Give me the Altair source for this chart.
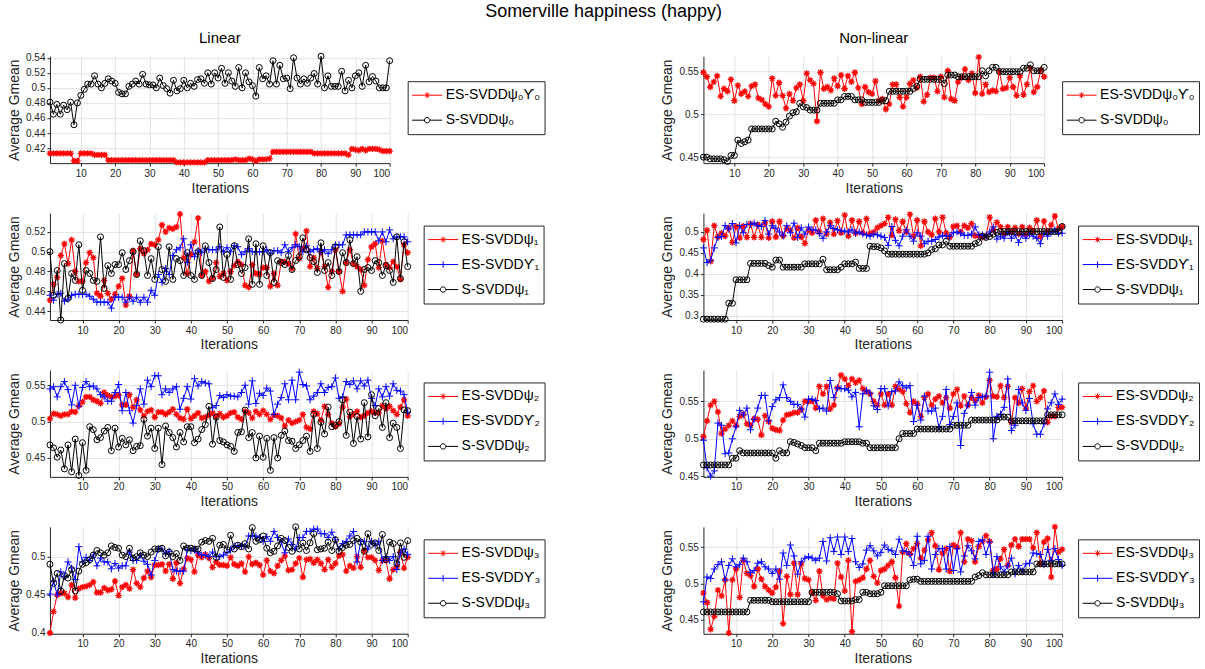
import altair as alt
import pandas as pd

iterations = list(range(1, 101))
x_ticks = [10, 20, 30, 40, 50, 60, 70, 80, 90, 100]

# ---------------- Row 1 ----------------
lin0_es = [0.413, 0.413, 0.413, 0.413, 0.413, 0.413, 0.413, 0.403, 0.403, 0.413,
           0.413, 0.413, 0.413, 0.411, 0.411, 0.411, 0.411, 0.404, 0.404, 0.404,
           0.404, 0.404, 0.404, 0.404, 0.404, 0.404, 0.404, 0.404, 0.404, 0.404,
           0.404, 0.404, 0.404, 0.404, 0.404, 0.404, 0.404, 0.401, 0.401, 0.401,
           0.401, 0.401, 0.401, 0.401, 0.401, 0.401, 0.404, 0.404, 0.404, 0.404,
           0.404, 0.404, 0.404, 0.404, 0.405, 0.404, 0.404, 0.404, 0.406, 0.405,
           0.403, 0.405, 0.405, 0.405, 0.406, 0.415, 0.415, 0.415, 0.415, 0.415,
           0.415, 0.415, 0.415, 0.415, 0.415, 0.415, 0.415, 0.413, 0.413, 0.413,
           0.413, 0.413, 0.413, 0.413, 0.413, 0.413, 0.413, 0.411, 0.419, 0.418,
           0.417, 0.419, 0.417, 0.419, 0.419, 0.419, 0.418, 0.416, 0.416, 0.416]
lin0_s = [0.481, 0.465, 0.478, 0.465, 0.477, 0.471, 0.481, 0.451, 0.480, 0.490,
          0.498, 0.505, 0.505, 0.516, 0.505, 0.500, 0.506, 0.512, 0.509, 0.506,
          0.494, 0.492, 0.492, 0.502, 0.505, 0.509, 0.505, 0.518, 0.505, 0.504,
          0.504, 0.500, 0.513, 0.503, 0.499, 0.493, 0.510, 0.496, 0.499, 0.510,
          0.500, 0.506, 0.502, 0.511, 0.512, 0.506, 0.520, 0.505, 0.520, 0.513,
          0.526, 0.506, 0.520, 0.509, 0.502, 0.527, 0.500, 0.520, 0.508, 0.503,
          0.489, 0.527, 0.512, 0.516, 0.505, 0.536, 0.505, 0.530, 0.512, 0.513,
          0.499, 0.540, 0.513, 0.505, 0.512, 0.506, 0.513, 0.519, 0.505, 0.542,
          0.500, 0.516, 0.502, 0.502, 0.502, 0.522, 0.496, 0.510, 0.500, 0.516,
          0.520, 0.502, 0.530, 0.508, 0.515, 0.509, 0.500, 0.500, 0.500, 0.536]
nl0_es = [0.549, 0.544, 0.532, 0.538, 0.545, 0.521, 0.530, 0.527, 0.541, 0.516,
          0.534, 0.524, 0.527, 0.521, 0.533, 0.535, 0.519, 0.517, 0.512, 0.509,
          0.542, 0.522, 0.537, 0.522, 0.507, 0.524, 0.516, 0.531, 0.535, 0.516,
          0.548, 0.540, 0.536, 0.492, 0.549, 0.530, 0.532, 0.528, 0.542, 0.533,
          0.546, 0.530, 0.545, 0.538, 0.549, 0.531, 0.512, 0.532, 0.526, 0.524,
          0.539, 0.516, 0.518, 0.506, 0.512, 0.535, 0.535, 0.520, 0.509, 0.520,
          0.536, 0.540, 0.531, 0.544, 0.515, 0.523, 0.543, 0.543, 0.527, 0.544,
          0.520, 0.551, 0.518, 0.516, 0.538, 0.543, 0.553, 0.540, 0.548, 0.525,
          0.567, 0.524, 0.535, 0.526, 0.528, 0.527, 0.550, 0.530, 0.531, 0.543,
          0.532, 0.522, 0.545, 0.523, 0.535, 0.554, 0.526, 0.532, 0.552, 0.544]
nl0_s = [0.450, 0.450, 0.448, 0.448, 0.448, 0.448, 0.447, 0.445, 0.452, 0.452,
         0.470, 0.466, 0.468, 0.470, 0.483, 0.483, 0.483, 0.483, 0.483, 0.483,
         0.483, 0.492, 0.489, 0.485, 0.491, 0.498, 0.502, 0.503, 0.513, 0.509,
         0.508, 0.505, 0.505, 0.505, 0.513, 0.513, 0.513, 0.513, 0.513, 0.517,
         0.517, 0.521, 0.521, 0.521, 0.517, 0.517, 0.517, 0.514, 0.514, 0.514,
         0.514, 0.514, 0.516, 0.516, 0.527, 0.527, 0.527, 0.527, 0.527, 0.527,
         0.527, 0.530, 0.533, 0.541, 0.541, 0.541, 0.541, 0.541, 0.541, 0.541,
         0.536, 0.546, 0.546, 0.546, 0.544, 0.544, 0.544, 0.544, 0.544, 0.544,
         0.544, 0.551, 0.545, 0.551, 0.555, 0.555, 0.550, 0.550, 0.550, 0.550,
         0.550, 0.550, 0.550, 0.554, 0.554, 0.558, 0.551, 0.551, 0.551, 0.555]

# ---------------- Row 2 ----------------
lin1_es = [0.451, 0.467, 0.474, 0.496, 0.508, 0.488, 0.512, 0.480, 0.470, 0.470,
           0.489, 0.499, 0.494, 0.458, 0.455, 0.471, 0.458, 0.452, 0.457, 0.465,
           0.473, 0.446, 0.455, 0.501, 0.477, 0.503, 0.498, 0.502, 0.508, 0.507,
           0.512, 0.527, 0.520, 0.524, 0.523, 0.525, 0.538, 0.494, 0.478, 0.497,
           0.510, 0.534, 0.476, 0.480, 0.470, 0.473, 0.489, 0.475, 0.478, 0.471,
           0.480, 0.486, 0.490, 0.487, 0.466, 0.464, 0.487, 0.478, 0.477, 0.484,
           0.484, 0.465, 0.478, 0.466, 0.490, 0.490, 0.488, 0.483, 0.518, 0.493,
           0.503, 0.521, 0.485, 0.494, 0.483, 0.500, 0.485, 0.464, 0.480, 0.502,
           0.480, 0.460, 0.489, 0.502, 0.488, 0.485, 0.482, 0.466, 0.492, 0.505,
           0.508, 0.484, 0.511, 0.487, 0.484, 0.490, 0.485, 0.472, 0.507, 0.499]
lin1_ups = [0.456, 0.451, 0.457, 0.458, 0.450, 0.452, 0.456, 0.457, 0.457, 0.457,
            0.457, 0.455, 0.452, 0.449, 0.449, 0.449, 0.449, 0.443, 0.454, 0.454,
            0.454, 0.449, 0.454, 0.450, 0.454, 0.449, 0.454, 0.449, 0.461, 0.456,
            0.477, 0.469, 0.483, 0.477, 0.496, 0.502, 0.504, 0.513, 0.489, 0.507,
            0.495, 0.501, 0.499, 0.503, 0.502, 0.502, 0.502, 0.505, 0.500, 0.504,
            0.500, 0.506, 0.505, 0.497, 0.500, 0.503, 0.500, 0.500, 0.500, 0.500,
            0.502, 0.498, 0.501, 0.501, 0.499, 0.507, 0.500, 0.504, 0.507, 0.505,
            0.500, 0.506, 0.500, 0.502, 0.503, 0.500, 0.502, 0.498, 0.502, 0.507,
            0.507, 0.507, 0.517, 0.517, 0.517, 0.517, 0.517, 0.520, 0.520, 0.520,
            0.520, 0.511, 0.520, 0.510, 0.522, 0.513, 0.515, 0.515, 0.515, 0.510]
lin1_s = [0.500, 0.456, 0.481, 0.431, 0.488, 0.453, 0.478, 0.471, 0.507, 0.461,
          0.481, 0.478, 0.471, 0.470, 0.515, 0.463, 0.486, 0.478, 0.487, 0.487,
          0.499, 0.482, 0.491, 0.500, 0.477, 0.511, 0.501, 0.476, 0.493, 0.472,
          0.505, 0.482, 0.470, 0.505, 0.472, 0.493, 0.491, 0.476, 0.499, 0.476,
          0.472, 0.500, 0.476, 0.506, 0.489, 0.473, 0.482, 0.525, 0.474, 0.497,
          0.472, 0.506, 0.487, 0.478, 0.484, 0.513, 0.467, 0.508, 0.467, 0.506,
          0.476, 0.499, 0.469, 0.491, 0.489, 0.487, 0.496, 0.482, 0.491, 0.495,
          0.514, 0.502, 0.494, 0.490, 0.479, 0.509, 0.481, 0.489, 0.476, 0.505,
          0.480, 0.499, 0.489, 0.512, 0.488, 0.495, 0.460, 0.482, 0.484, 0.481,
          0.491, 0.489, 0.476, 0.486, 0.481, 0.469, 0.515, 0.473, 0.510, 0.485]
nl1_es = [0.482, 0.504, 0.430, 0.515, 0.488, 0.497, 0.490, 0.510, 0.475, 0.513,
          0.486, 0.514, 0.487, 0.520, 0.487, 0.518, 0.487, 0.522, 0.486, 0.525,
          0.488, 0.525, 0.490, 0.508, 0.505, 0.486, 0.510, 0.488, 0.473, 0.505,
          0.498, 0.528, 0.500, 0.532, 0.495, 0.523, 0.495, 0.527, 0.498, 0.540,
          0.490, 0.528, 0.497, 0.525, 0.498, 0.532, 0.496, 0.500, 0.510, 0.515,
          0.520, 0.535, 0.492, 0.530, 0.503, 0.525, 0.500, 0.542, 0.490, 0.528,
          0.467, 0.525, 0.500, 0.493, 0.532, 0.500, 0.535, 0.498, 0.487, 0.513,
          0.515, 0.500, 0.515, 0.510, 0.520, 0.491, 0.490, 0.487, 0.490, 0.535,
          0.504, 0.523, 0.512, 0.495, 0.512, 0.500, 0.510, 0.495, 0.512, 0.493,
          0.510, 0.502, 0.528, 0.488, 0.526, 0.500, 0.517, 0.538, 0.507, 0.513]
nl1_ups = [0.462, 0.427, 0.433, 0.462, 0.487, 0.489, 0.515, 0.507, 0.520, 0.474,
           0.515, 0.498, 0.518, 0.518, 0.521, 0.515, 0.513, 0.527, 0.495, 0.515,
           0.509, 0.500, 0.491, 0.515, 0.498, 0.521, 0.487, 0.510, 0.495, 0.512,
           0.505, 0.505, 0.496, 0.485, 0.500, 0.515, 0.508, 0.505, 0.503, 0.502,
           0.500, 0.505, 0.497, 0.500, 0.495, 0.493, 0.490, 0.495, 0.493, 0.490,
           0.487, 0.468, 0.513, 0.480, 0.467, 0.490, 0.505, 0.490, 0.478, 0.498,
           0.490, 0.472, 0.478, 0.478, 0.482, 0.488, 0.492, 0.490, 0.490, 0.498,
           0.500, 0.497, 0.492, 0.492, 0.495, 0.512, 0.493, 0.493, 0.490, 0.500,
           0.512, 0.483, 0.490, 0.485, 0.498, 0.485, 0.493, 0.475, 0.493, 0.485,
           0.495, 0.490, 0.485, 0.472, 0.497, 0.490, 0.500, 0.505, 0.497, 0.497]
nl1_s = [0.292, 0.292, 0.292, 0.292, 0.292, 0.292, 0.292, 0.330, 0.330, 0.386,
         0.386, 0.386, 0.386, 0.425, 0.425, 0.425, 0.425, 0.425, 0.420, 0.416,
         0.433, 0.433, 0.416, 0.416, 0.416, 0.416, 0.416, 0.416, 0.424, 0.424,
         0.424, 0.424, 0.424, 0.435, 0.410, 0.410, 0.410, 0.410, 0.416, 0.424,
         0.424, 0.424, 0.428, 0.413, 0.413, 0.413, 0.466, 0.465, 0.465, 0.462,
         0.455, 0.447, 0.447, 0.447, 0.447, 0.447, 0.447, 0.447, 0.447, 0.447,
         0.447, 0.447, 0.450, 0.458, 0.460, 0.469, 0.469, 0.478, 0.466, 0.466,
         0.466, 0.466, 0.466, 0.466, 0.466, 0.472, 0.475, 0.490, 0.487, 0.489,
         0.495, 0.499, 0.501, 0.501, 0.501, 0.501, 0.501, 0.501, 0.501, 0.501,
         0.501, 0.501, 0.501, 0.501, 0.501, 0.501, 0.501, 0.501, 0.501, 0.513]

# ---------------- Row 3 ----------------
lin2_es = [0.504, 0.511, 0.510, 0.508, 0.510, 0.510, 0.514, 0.513, 0.522, 0.527,
           0.534, 0.534, 0.530, 0.528, 0.525, 0.540, 0.536, 0.534, 0.535, 0.536,
           0.523, 0.523, 0.537, 0.520, 0.530, 0.516, 0.508, 0.514, 0.516, 0.506,
           0.513, 0.513, 0.510, 0.513, 0.517, 0.510, 0.505, 0.503, 0.517, 0.504,
           0.508, 0.512, 0.505, 0.506, 0.509, 0.512, 0.507, 0.511, 0.506, 0.508,
           0.512, 0.513, 0.506, 0.503, 0.514, 0.512, 0.505, 0.514, 0.510, 0.515,
           0.510, 0.503, 0.509, 0.508, 0.505, 0.494, 0.502, 0.498, 0.500, 0.502,
           0.510, 0.492, 0.490, 0.514, 0.511, 0.502, 0.521, 0.510, 0.498, 0.493,
           0.497, 0.520, 0.531, 0.507, 0.510, 0.514, 0.506, 0.508, 0.512, 0.514,
           0.512, 0.512, 0.522, 0.518, 0.521, 0.515, 0.510, 0.520, 0.530, 0.508]
lin2_ups = [0.545, 0.548, 0.534, 0.548, 0.555, 0.544, 0.523, 0.550, 0.521, 0.547,
            0.555, 0.548, 0.549, 0.545, 0.537, 0.534, 0.528, 0.528, 0.540, 0.551,
            0.515, 0.540, 0.515, 0.498, 0.522, 0.545, 0.524, 0.557, 0.548, 0.563,
            0.563, 0.537, 0.545, 0.540, 0.545, 0.548, 0.517, 0.532, 0.548, 0.531,
            0.559, 0.549, 0.555, 0.553, 0.552, 0.519, 0.522, 0.536, 0.533, 0.537,
            0.535, 0.535, 0.534, 0.540, 0.550, 0.524, 0.556, 0.525, 0.539, 0.536,
            0.546, 0.542, 0.510, 0.524, 0.533, 0.552, 0.530, 0.557, 0.530, 0.568,
            0.551, 0.549, 0.530, 0.535, 0.540, 0.552, 0.540, 0.547, 0.548, 0.560,
            0.532, 0.534, 0.555, 0.551, 0.556, 0.545, 0.556, 0.549, 0.557, 0.532,
            0.522, 0.545, 0.534, 0.548, 0.535, 0.552, 0.543, 0.542, 0.537, 0.513]
lin2_s = [0.468, 0.464, 0.451, 0.461, 0.435, 0.468, 0.431, 0.476, 0.426, 0.471,
          0.433, 0.493, 0.489, 0.475, 0.478, 0.487, 0.492, 0.460, 0.491, 0.465,
          0.477, 0.468, 0.475, 0.460, 0.466, 0.467, 0.503, 0.480, 0.491, 0.463,
          0.491, 0.441, 0.494, 0.485, 0.478, 0.465, 0.485, 0.472, 0.493, 0.493,
          0.471, 0.476, 0.489, 0.496, 0.521, 0.469, 0.506, 0.474, 0.472, 0.468,
          0.466, 0.459, 0.485, 0.486, 0.516, 0.478, 0.485, 0.450, 0.480, 0.451,
          0.477, 0.433, 0.478, 0.450, 0.481, 0.487, 0.474, 0.473, 0.463, 0.468,
          0.474, 0.480, 0.459, 0.510, 0.463, 0.499, 0.483, 0.520, 0.493, 0.495,
          0.500, 0.530, 0.481, 0.513, 0.470, 0.507, 0.476, 0.526, 0.479, 0.537,
          0.508, 0.518, 0.492, 0.526, 0.478, 0.498, 0.492, 0.463, 0.516, 0.515]
nl2_es = [0.503, 0.524, 0.545, 0.550, 0.536, 0.507, 0.513, 0.518, 0.524, 0.518,
          0.530, 0.533, 0.520, 0.518, 0.527, 0.526, 0.505, 0.531, 0.523, 0.514,
          0.512, 0.511, 0.525, 0.532, 0.533, 0.535, 0.535, 0.539, 0.550, 0.550,
          0.550, 0.541, 0.570, 0.560, 0.570, 0.540, 0.545, 0.568, 0.585, 0.580,
          0.571, 0.580, 0.575, 0.578, 0.567, 0.563, 0.560, 0.550, 0.545, 0.560,
          0.545, 0.560, 0.545, 0.570, 0.566, 0.563, 0.547, 0.535, 0.550, 0.547,
          0.530, 0.555, 0.560, 0.545, 0.553, 0.557, 0.548, 0.555, 0.541, 0.560,
          0.566, 0.544, 0.557, 0.545, 0.555, 0.551, 0.558, 0.548, 0.556, 0.578,
          0.557, 0.556, 0.571, 0.555, 0.570, 0.522, 0.555, 0.548, 0.567, 0.541,
          0.563, 0.571, 0.550, 0.555, 0.564, 0.522, 0.530, 0.530, 0.542, 0.542]
nl2_ups = [0.498, 0.461, 0.450, 0.457, 0.521, 0.518, 0.480, 0.481, 0.500, 0.516,
           0.538, 0.532, 0.541, 0.512, 0.526, 0.541, 0.558, 0.558, 0.524, 0.543,
           0.552, 0.555, 0.572, 0.555, 0.550, 0.546, 0.546, 0.540, 0.529, 0.553,
           0.553, 0.551, 0.540, 0.541, 0.537, 0.578, 0.555, 0.568, 0.567, 0.567,
           0.565, 0.556, 0.562, 0.516, 0.560, 0.565, 0.561, 0.544, 0.539, 0.567,
           0.567, 0.544, 0.563, 0.564, 0.576, 0.571, 0.568, 0.571, 0.523, 0.545,
           0.525, 0.557, 0.537, 0.537, 0.541, 0.515, 0.530, 0.566, 0.519, 0.530,
           0.548, 0.491, 0.534, 0.545, 0.562, 0.545, 0.555, 0.556, 0.557, 0.589,
           0.500, 0.530, 0.533, 0.542, 0.580, 0.511, 0.518, 0.566, 0.548, 0.538,
           0.554, 0.520, 0.506, 0.506, 0.520, 0.540, 0.548, 0.560, 0.546, 0.553]
nl2_s = [0.465, 0.465, 0.465, 0.465, 0.465, 0.465, 0.465, 0.465, 0.474, 0.474,
         0.484, 0.481, 0.481, 0.481, 0.481, 0.481, 0.481, 0.481, 0.481, 0.481,
         0.474, 0.484, 0.481, 0.481, 0.496, 0.495, 0.493, 0.491, 0.488, 0.488,
         0.488, 0.484, 0.494, 0.494, 0.494, 0.494, 0.494, 0.494, 0.494, 0.496,
         0.496, 0.496, 0.496, 0.496, 0.494, 0.494, 0.488, 0.488, 0.488, 0.488,
         0.488, 0.488, 0.488, 0.488, 0.500, 0.507, 0.507, 0.507, 0.507, 0.513,
         0.513, 0.513, 0.513, 0.513, 0.513, 0.513, 0.513, 0.513, 0.513, 0.518,
         0.518, 0.518, 0.518, 0.518, 0.525, 0.525, 0.525, 0.525, 0.525, 0.525,
         0.525, 0.525, 0.529, 0.529, 0.529, 0.524, 0.524, 0.524, 0.524, 0.524,
         0.524, 0.524, 0.524, 0.524, 0.524, 0.532, 0.532, 0.532, 0.532, 0.532]

# ---------------- Row 4 ----------------
lin3_es = [0.400, 0.428, 0.450, 0.452, 0.452, 0.447, 0.463, 0.446, 0.458, 0.460,
           0.461, 0.463, 0.467, 0.453, 0.453, 0.459, 0.456, 0.457, 0.468, 0.449,
           0.460, 0.463, 0.458, 0.483, 0.465, 0.460, 0.472, 0.481, 0.473, 0.489,
           0.489, 0.490, 0.481, 0.490, 0.471, 0.492, 0.465, 0.484, 0.498, 0.496,
           0.480, 0.502, 0.499, 0.503, 0.498, 0.486, 0.493, 0.489, 0.489, 0.488,
           0.499, 0.490, 0.488, 0.491, 0.480, 0.500, 0.490, 0.492, 0.489, 0.476,
           0.495, 0.481, 0.478, 0.488, 0.495, 0.501, 0.482, 0.483, 0.491, 0.498,
           0.473, 0.496, 0.497, 0.492, 0.496, 0.491, 0.483, 0.496, 0.486, 0.491,
           0.501, 0.503, 0.481, 0.488, 0.485, 0.500, 0.486, 0.508, 0.499, 0.499,
           0.495, 0.482, 0.495, 0.495, 0.471, 0.483, 0.487, 0.506, 0.485, 0.499]
lin3_ups = [0.451, 0.468, 0.450, 0.480, 0.474, 0.493, 0.485, 0.470, 0.513, 0.493,
            0.499, 0.495, 0.502, 0.488, 0.498, 0.493, 0.493, 0.484, 0.491, 0.485,
            0.488, 0.488, 0.506, 0.495, 0.495, 0.502, 0.494, 0.490, 0.476, 0.495,
            0.510, 0.510, 0.504, 0.507, 0.483, 0.481, 0.481, 0.481, 0.509, 0.508,
            0.509, 0.505, 0.502, 0.502, 0.500, 0.506, 0.500, 0.500, 0.502, 0.505,
            0.509, 0.514, 0.514, 0.514, 0.513, 0.527, 0.527, 0.527, 0.525, 0.520,
            0.526, 0.520, 0.533, 0.525, 0.519, 0.505, 0.523, 0.516, 0.510, 0.525,
            0.525, 0.533, 0.533, 0.536, 0.536, 0.530, 0.530, 0.525, 0.532, 0.522,
            0.510, 0.517, 0.520, 0.527, 0.533, 0.493, 0.520, 0.520, 0.510, 0.520,
            0.515, 0.520, 0.495, 0.500, 0.495, 0.500, 0.483, 0.505, 0.510, 0.503]
lin3_s = [0.490, 0.465, 0.478, 0.455, 0.475, 0.472, 0.483, 0.455, 0.481, 0.490,
          0.492, 0.496, 0.502, 0.508, 0.505, 0.502, 0.505, 0.514, 0.512, 0.511,
          0.502, 0.500, 0.511, 0.498, 0.500, 0.505, 0.502, 0.500, 0.506, 0.510,
          0.510, 0.511, 0.501, 0.506, 0.500, 0.504, 0.495, 0.514, 0.511, 0.511,
          0.510, 0.510, 0.519, 0.521, 0.520, 0.524, 0.499, 0.515, 0.516, 0.509,
          0.528, 0.510, 0.515, 0.513, 0.517, 0.510, 0.538, 0.520, 0.522, 0.527,
          0.511, 0.505, 0.507, 0.514, 0.524, 0.521, 0.512, 0.507, 0.539, 0.510,
          0.518, 0.508, 0.518, 0.530, 0.509, 0.510, 0.511, 0.519, 0.508, 0.522,
          0.507, 0.512, 0.515, 0.516, 0.521, 0.524, 0.519, 0.507, 0.530, 0.516,
          0.518, 0.508, 0.529, 0.496, 0.519, 0.517, 0.491, 0.518, 0.499, 0.521]
nl3_es = [0.487, 0.474, 0.437, 0.455, 0.491, 0.483, 0.505, 0.432, 0.505, 0.520,
          0.481, 0.532, 0.514, 0.511, 0.496, 0.520, 0.506, 0.496, 0.491, 0.487,
          0.495, 0.517, 0.445, 0.510, 0.485, 0.528, 0.485, 0.527, 0.507, 0.505,
          0.487, 0.477, 0.517, 0.483, 0.478, 0.480, 0.479, 0.528, 0.509, 0.490,
          0.532, 0.434, 0.503, 0.505, 0.508, 0.520, 0.532, 0.510, 0.501, 0.518,
          0.520, 0.525, 0.530, 0.508, 0.469, 0.543, 0.555, 0.541, 0.548, 0.555,
          0.535, 0.546, 0.560, 0.570, 0.552, 0.519, 0.542, 0.548, 0.517, 0.553,
          0.550, 0.570, 0.530, 0.561, 0.559, 0.530, 0.551, 0.558, 0.566, 0.558,
          0.518, 0.520, 0.534, 0.547, 0.525, 0.553, 0.561, 0.551, 0.561, 0.561,
          0.561, 0.549, 0.570, 0.527, 0.557, 0.562, 0.509, 0.578, 0.543, 0.547]
nl3_ups = [0.475, 0.509, 0.507, 0.520, 0.526, 0.530, 0.505, 0.525, 0.534, 0.523,
           0.526, 0.535, 0.530, 0.515, 0.518, 0.528, 0.530, 0.523, 0.520, 0.514,
           0.520, 0.506, 0.542, 0.525, 0.553, 0.538, 0.513, 0.530, 0.535, 0.537,
           0.535, 0.532, 0.535, 0.558, 0.531, 0.563, 0.544, 0.564, 0.540, 0.564,
           0.544, 0.562, 0.530, 0.522, 0.527, 0.546, 0.552, 0.545, 0.538, 0.543,
           0.553, 0.547, 0.545, 0.540, 0.561, 0.545, 0.544, 0.540, 0.525, 0.565,
           0.527, 0.532, 0.565, 0.520, 0.540, 0.548, 0.548, 0.520, 0.551, 0.518,
           0.548, 0.516, 0.538, 0.552, 0.545, 0.534, 0.558, 0.560, 0.540, 0.557,
           0.514, 0.537, 0.523, 0.516, 0.524, 0.535, 0.513, 0.525, 0.517, 0.527,
           0.528, 0.542, 0.541, 0.540, 0.526, 0.547, 0.532, 0.548, 0.533, 0.525]
nl3_s = [0.461, 0.461, 0.461, 0.461, 0.461, 0.461, 0.461, 0.461, 0.461, 0.461,
         0.461, 0.461, 0.461, 0.477, 0.477, 0.477, 0.477, 0.477, 0.477, 0.475,
         0.475, 0.475, 0.475, 0.475, 0.475, 0.475, 0.475, 0.475, 0.475, 0.475,
         0.488, 0.488, 0.488, 0.488, 0.488, 0.488, 0.488, 0.486, 0.476, 0.476,
         0.476, 0.476, 0.478, 0.478, 0.488, 0.488, 0.486, 0.486, 0.486, 0.488,
         0.497, 0.497, 0.497, 0.497, 0.497, 0.497, 0.497, 0.505, 0.506, 0.506,
         0.503, 0.503, 0.503, 0.503, 0.503, 0.503, 0.503, 0.503, 0.503, 0.503,
         0.503, 0.503, 0.503, 0.503, 0.503, 0.509, 0.511, 0.515, 0.512, 0.512,
         0.512, 0.512, 0.512, 0.512, 0.512, 0.516, 0.516, 0.516, 0.516, 0.516,
         0.516, 0.516, 0.527, 0.527, 0.527, 0.527, 0.527, 0.527, 0.527, 0.527]

FONT = "Liberation Sans"
INK = "#262626"

# marker glyphs (unit paths) and legend glyphs (line + marker)
STYLES = {
    "red": dict(color="#ff0000", size=40, sw=1.3,
                shape="M-1,0H1M0,-1V1M-0.7,-0.7L0.7,0.7M-0.7,0.7L0.7,-0.7",
                leg="M-1,0H1M0,-0.2V0.2M-0.14,-0.14L0.14,0.14M-0.14,0.14L0.14,-0.14"),
    "blue": dict(color="#0000ff", size=50, sw=1.0,
                 shape="M-1,0H1M0,-1V1",
                 leg="M-1,0H1M0,-0.22V0.22"),
    "black": dict(color="#000000", size=36, sw=1.0,
                  shape="circle",
                  leg="M-1,0H-0.18M0.18,0H1M0.18,0A0.18,0.18 0 1,1 -0.18,0A0.18,0.18 0 1,1 0.18,0"),
}


def panel(series, ydomain, yticks, width, height, legend_x, title=None):
    xenc = alt.X("it:Q",
                 scale=alt.Scale(domain=[1, 100], nice=False, zero=False),
                 axis=alt.Axis(values=x_ticks, title="Iterations"))
    yenc = alt.Y("v:Q",
                 scale=alt.Scale(domain=ydomain, nice=False, zero=False),
                 axis=alt.Axis(values=yticks, format=".2~f", title="Average Gmean"))
    layers = []
    for label, vals, key in series:
        assert len(vals) == 100, (label, len(vals))
        st = STYLES[key]
        df = pd.DataFrame({"it": iterations, "v": vals})
        base = alt.Chart(df).encode(x=xenc, y=yenc)
        layers.append(base.mark_line(color=st["color"], strokeWidth=1))
        layers.append(base.mark_point(shape=st["shape"], size=st["size"], color=st["color"],
                                      filled=False, strokeWidth=st["sw"], opacity=1))
    labels = [s[0] for s in series]
    colors = [STYLES[s[2]]["color"] for s in series]
    legshapes = [STYLES[s[2]]["leg"] for s in series]
    n = len(labels)
    leg_h = 8 + n * 20 + (n - 1) * 5
    leg = alt.Legend(title=None, orient="none", legendX=legend_x,
                     legendY=(height - leg_h) / 2 - 2,
                     strokeColor=INK, fillColor="white", padding=4, cornerRadius=0,
                     labelFont=FONT, labelFontSize=14, labelColor="#000000",
                     symbolSize=900, clipHeight=20, rowPadding=5,
                     labelOffset=3, symbolStrokeWidth=1)
    leg_df = pd.DataFrame({"s": labels, "it": [50] * n, "v": [ydomain[0]] * n})
    legend_layer = alt.Chart(leg_df).transform_filter("false").mark_point(
        filled=False, size=900, strokeWidth=1, opacity=1
    ).encode(
        color=alt.Color("s:N", scale=alt.Scale(domain=labels, range=colors), legend=leg),
        shape=alt.Shape("s:N", scale=alt.Scale(domain=labels, range=legshapes), legend=leg),
    )
    layers.append(legend_layer)
    props = dict(width=width, height=height)
    if title:
        props["title"] = alt.TitleParams(title, fontSize=15, font=FONT, fontWeight="normal",
                                         color="#000000", offset=5, anchor="middle")
    return alt.layer(*layers).properties(**props)


H = 107
p1 = panel([("ES-SVDDψ₀ϒ₀", lin0_es, "red"), ("S-SVDDψ₀", lin0_s, "black")],
           [0.400, 0.542], [0.42, 0.44, 0.46, 0.48, 0.50, 0.52, 0.54], 340, H, 358, "Linear")
p2 = panel([("ES-SVDDψ₀ϒ₀", nl0_es, "red"), ("S-SVDDψ₀", nl0_s, "black")],
           [0.443, 0.568], [0.45, 0.50, 0.55], 341, H, 359, "Non-linear")
p3 = panel([("ES-SVDDψ₁", lin1_es, "red"), ("ES-SVDDϒ₁", lin1_ups, "blue"), ("S-SVDDψ₁", lin1_s, "black")],
           [0.431, 0.539], [0.44, 0.46, 0.48, 0.50, 0.52], 358, H, 374)
p4 = panel([("ES-SVDDψ₁", nl1_es, "red"), ("ES-SVDDϒ₁", nl1_ups, "blue"), ("S-SVDDψ₁", nl1_s, "black")],
           [0.290, 0.545], [0.30, 0.35, 0.40, 0.45, 0.50], 359, H, 375)
p5 = panel([("ES-SVDDψ₂", lin2_es, "red"), ("ES-SVDDϒ₂", lin2_ups, "blue"), ("S-SVDDψ₂", lin2_s, "black")],
           [0.424, 0.571], [0.45, 0.50, 0.55], 358, H, 374)
p6 = panel([("ES-SVDDψ₂", nl2_es, "red"), ("ES-SVDDϒ₂", nl2_ups, "blue"), ("S-SVDDψ₂", nl2_s, "black")],
           [0.449, 0.592], [0.45, 0.50, 0.55], 359, H, 375)
p7 = panel([("ES-SVDDψ₃", lin3_es, "red"), ("ES-SVDDϒ₃", lin3_ups, "blue"), ("S-SVDDψ₃", lin3_s, "black")],
           [0.399, 0.539], [0.40, 0.45, 0.50], 358, H, 374)
p8 = panel([("ES-SVDDψ₃", nl3_es, "red"), ("ES-SVDDϒ₃", nl3_ups, "blue"), ("S-SVDDψ₃", nl3_s, "black")],
           [0.431, 0.578], [0.45, 0.50, 0.55], 359, H, 375)

chart = alt.concat(
    p1, p2, p3, p4, p5, p6, p7, p8,
    columns=2, spacing={"row": 50, "column": 296}, bounds="flush"
).resolve_scale(
    color="independent", shape="independent"
).properties(
    title=alt.TitleParams("Somerville happiness (happy)", fontSize=18, font=FONT,
                          fontWeight="normal", color="#000000", anchor="middle",
                          frame="bounds", offset=10),
    padding={"left": 7, "top": 2, "right": 5, "bottom": 5},
    background="white",
).configure_view(
    stroke="transparent"
).configure_axis(
    labelFont=FONT, labelFontSize=10, labelColor=INK,
    titleFont=FONT, titleFontSize=14, titleFontWeight="normal", titleColor=INK,
    domainColor=INK, tickColor=INK, tickSize=3, labelPadding=2,
    gridColor="#e2e2e2", gridWidth=1, domainWidth=1
).configure_axisX(
    titlePadding=3
).configure_axisY(
    titlePadding=4
)

chart.save("out.html", embed_options={"renderer": "svg", "actions": False})
